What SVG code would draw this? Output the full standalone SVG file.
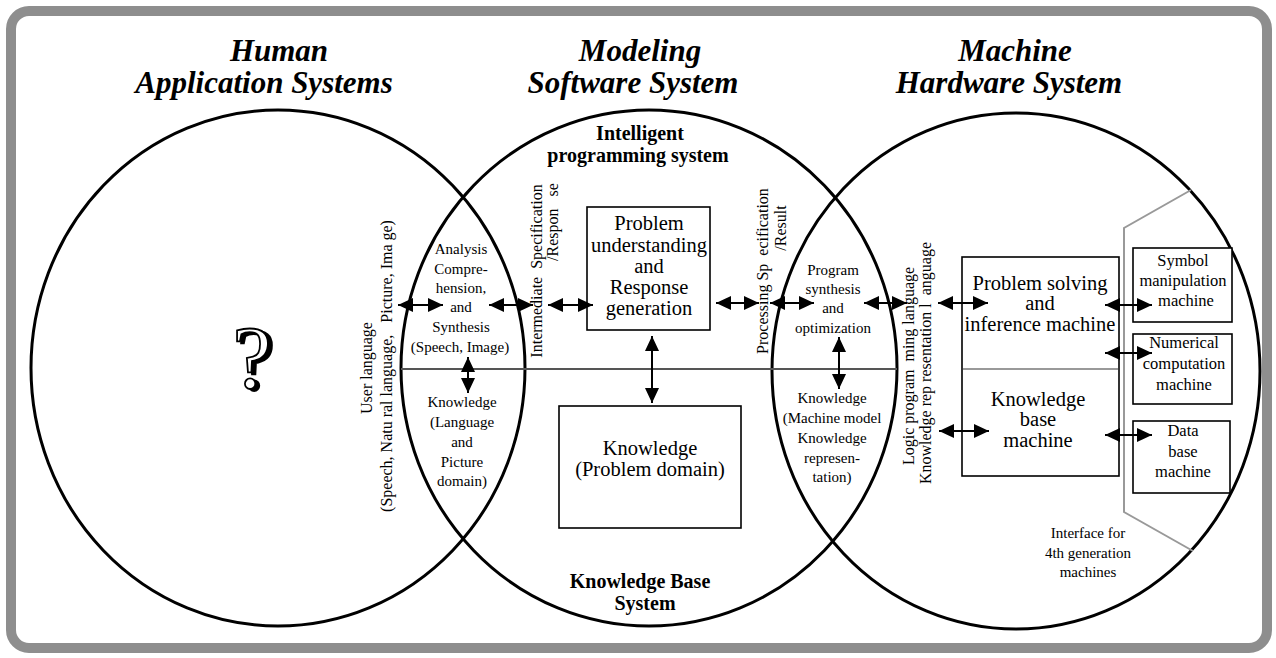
<svg xmlns="http://www.w3.org/2000/svg" width="1276" height="658" viewBox="0 0 1276 658">
<style>
.el{fill:none;stroke:#000;stroke-width:3}
.box{fill:#fff;stroke:#000;stroke-width:1.6}
.t{font-family:"Liberation Serif","Times New Roman",serif;fill:#000}
.title{font-size:31px;font-weight:bold;font-style:italic;text-anchor:middle}
.bold{font-size:20px;font-weight:bold;text-anchor:middle}
.big{font-size:20.5px;text-anchor:middle}
.sm{font-size:15px;text-anchor:middle}
.md{font-size:16.5px;text-anchor:middle}
.vt{font-size:16px;text-anchor:middle;white-space:pre}
.ar{stroke:#000;stroke-width:2;fill:none;marker-start:url(#ah);marker-end:url(#ah)}
.gl{stroke:#999;stroke-width:2;fill:none}
</style>
<defs>
<marker id="ah" markerUnits="userSpaceOnUse" markerWidth="16" markerHeight="14" refX="15" refY="7" orient="auto-start-reverse">
<path d="M0,0 L15,7 L0,14 Z" fill="#000"/>
</marker>
<filter id="shadow" x="-20%" y="-20%" width="150%" height="150%">
<feOffset in="SourceAlpha" dx="4" dy="2" result="off"/>
<feMerge><feMergeNode in="off"/><feMergeNode in="SourceGraphic"/></feMerge>
</filter>
</defs>
<rect x="0" y="0" width="1276" height="658" fill="#fff"/>
<rect x="11" y="11" width="1256" height="637" rx="18" ry="18" fill="#fff" stroke="#8e8e8e" stroke-width="10"/>

<g id="titles">
<text class="t title" x="279" y="61">Human</text>
<text class="t title" x="264" y="93">Application Systems</text>
<text class="t title" x="640" y="61">Modeling</text>
<text class="t title" x="633" y="93">Software System</text>
<text class="t title" x="1015" y="61">Machine</text>
<text class="t title" x="1009" y="93">Hardware System</text>
</g>

<g id="circles">
<ellipse class="el" cx="278" cy="368" rx="247" ry="258"/>
<ellipse class="el" cx="649" cy="368" rx="248" ry="258"/>
<ellipse class="el" cx="1016" cy="371" rx="244" ry="258"/>
<line x1="401" y1="369" x2="897" y2="369" stroke="#555" stroke-width="2"/>
</g>

<g id="question">
<text class="t" x="252" y="387" font-size="88" text-anchor="middle" filter="url(#shadow)" style="fill:#fff;stroke:#000;stroke-width:1.8">?</text>
</g>

<g id="sys-labels">
<text class="t bold" x="640" y="140">Intelligent</text>
<text class="t bold" x="638" y="162">programming system</text>
<text class="t bold" x="640" y="588">Knowledge Base</text>
<text class="t bold" x="645" y="610">System</text>
</g>

<g id="vertical-labels">
<text class="t vt" transform="translate(372,368) rotate(-90)">User language</text>
<text class="t vt" transform="translate(392,366) rotate(-90)">(Speech, Natu ral language,   Picture, Ima ge)</text>
<text class="t vt" transform="translate(542,271) rotate(-90)">Intermediate  Specification</text>
<text class="t vt" transform="translate(558,222) rotate(-90)">/Respon   se</text>
<text class="t vt" transform="translate(768,271) rotate(-90)">Processing Sp  ecification</text>
<text class="t vt" transform="translate(786,228) rotate(-90)">/Result</text>
<text class="t vt" transform="translate(914,366) rotate(-90)">Logic program  ming language</text>
<text class="t vt" transform="translate(931,363) rotate(-90)">Knowledge rep resentation l  anguage</text>
</g>

<g id="lens-left">
<text class="t sm" x="461" y="254">Analysis</text>
<text class="t sm" x="461" y="274">Compre-</text>
<text class="t sm" x="461" y="293">hension,</text>
<text class="t sm" x="461" y="312">and</text>
<text class="t sm" x="461" y="332">Synthesis</text>
<text class="t sm" x="460" y="352">(Speech, Image)</text>
<text class="t sm" x="462" y="407">Knowledge</text>
<text class="t sm" x="462" y="427">(Language</text>
<text class="t sm" x="462" y="447">and</text>
<text class="t sm" x="462" y="467">Picture</text>
<text class="t sm" x="462" y="486">domain)</text>
</g>

<g id="lens-right">
<text class="t sm" x="833" y="275">Program</text>
<text class="t sm" x="833" y="294">synthesis</text>
<text class="t sm" x="833" y="313">and</text>
<text class="t sm" x="833" y="333">optimization</text>
<text class="t sm" x="832" y="403">Knowledge</text>
<text class="t sm" x="832" y="423">(Machine model</text>
<text class="t sm" x="832" y="443">Knowledge</text>
<text class="t sm" x="832" y="463">represen-</text>
<text class="t sm" x="832" y="482">tation)</text>
</g>

<g id="problem-understanding">
<rect class="box" x="587" y="207" width="123" height="123"/>
<text class="t big" x="649" y="230">Problem</text>
<text class="t big" x="649" y="252">understanding</text>
<text class="t big" x="649" y="273">and</text>
<text class="t big" x="649" y="294">Response</text>
<text class="t big" x="649" y="315">generation</text>
</g>

<g id="knowledge-domain">
<rect class="box" x="559" y="406" width="182" height="122"/>
<text class="t big" x="650" y="455">Knowledge</text>
<text class="t big" x="650" y="476">(Problem domain)</text>
</g>

<g id="problem-solving">
<rect class="box" x="962" y="257" width="157" height="219"/>
<line x1="963" y1="369" x2="1118" y2="369" stroke="#999" stroke-width="2"/>
<text class="t big" x="1040" y="290" font-size="21">Problem solving</text>
<text class="t big" x="1040" y="310" font-size="21">and</text>
<text class="t big" x="1040" y="331" font-size="21">inference machine</text>
<text class="t big" x="1038" y="406" font-size="21">Knowledge</text>
<text class="t big" x="1038" y="426" font-size="21">base</text>
<text class="t big" x="1038" y="447" font-size="21">machine</text>
</g>

<g id="symbol">
<rect class="box" x="1133" y="248" width="99" height="74"/>
<text class="t md" x="1183" y="266">Symbol</text>
<text class="t md" x="1183" y="286">manipulation</text>
<text class="t md" x="1186" y="306">machine</text>
</g>
<g id="numerical">
<rect class="box" x="1133" y="334" width="99" height="70"/>
<text class="t md" x="1184" y="348">Numerical</text>
<text class="t md" x="1184" y="369">computation</text>
<text class="t md" x="1184" y="390">machine</text>
</g>
<g id="database">
<rect class="box" x="1133" y="421" width="97" height="72"/>
<text class="t md" x="1183" y="436">Data</text>
<text class="t md" x="1183" y="457">base</text>
<text class="t md" x="1183" y="477">machine</text>
</g>

<g id="interface">
<polyline class="gl" points="1191,190 1124,228 1124,512 1193,551"/>
<text class="t sm" x="1088" y="538">Interface for</text>
<text class="t sm" x="1088" y="558">4th generation</text>
<text class="t sm" x="1088" y="577">machines</text>
</g>

<g id="connectors">
<line class="ar" x1="398" y1="305" x2="443" y2="305"/>
<line class="ar" x1="489" y1="305" x2="533" y2="305"/>
<line class="ar" x1="548" y1="305" x2="593" y2="305"/>
<line class="ar" x1="468" y1="357" x2="468" y2="393"/>
<line class="ar" x1="652" y1="336" x2="652" y2="403"/>
<line class="ar" x1="716" y1="303" x2="759" y2="303"/>
<line class="ar" x1="770" y1="303" x2="814" y2="303"/>
<line class="ar" x1="864" y1="303" x2="907" y2="303"/>
<line class="ar" x1="938" y1="303" x2="988" y2="303"/>
<line class="ar" x1="839" y1="337" x2="839" y2="389"/>
<line class="ar" x1="939" y1="431" x2="989" y2="431"/>
<line class="ar" x1="1105" y1="305" x2="1152" y2="305"/>
<line class="ar" x1="1105" y1="353" x2="1152" y2="353"/>
<line class="ar" x1="1105" y1="435" x2="1152" y2="435"/>
</g>
</svg>
